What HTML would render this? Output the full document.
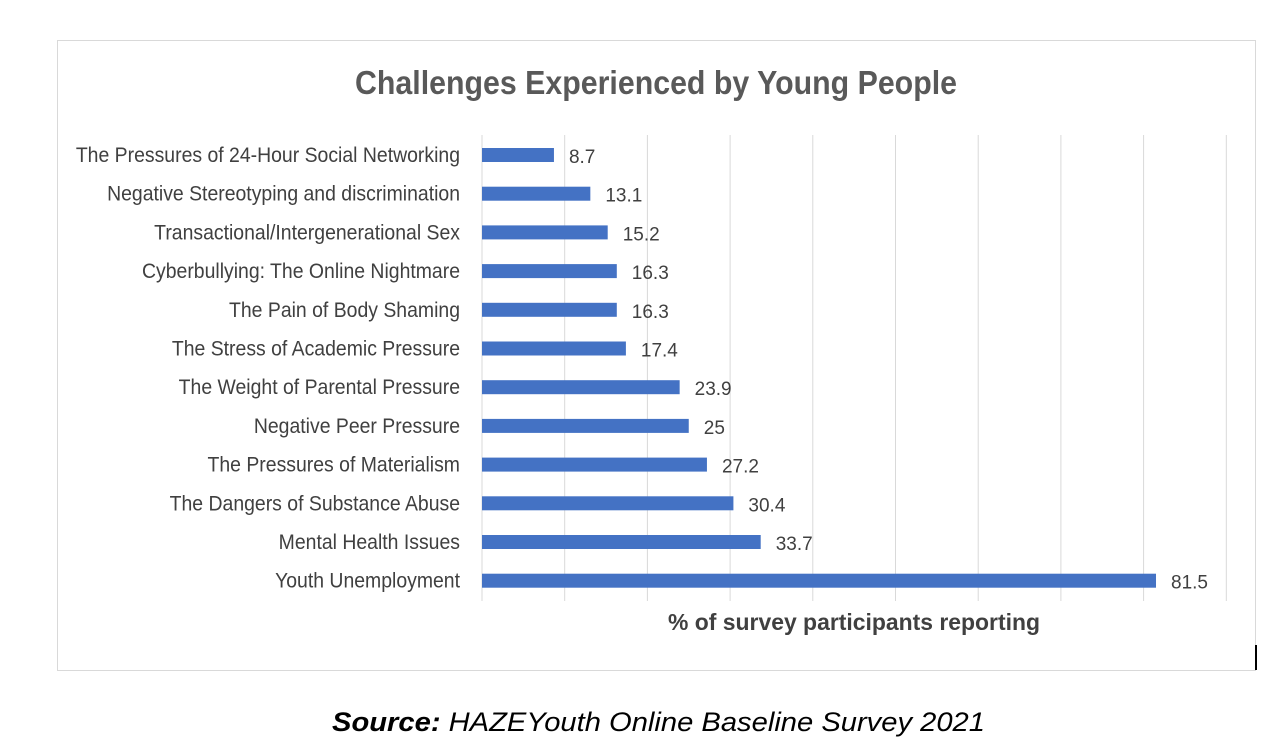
<!DOCTYPE html>
<html><head><meta charset="utf-8"><style>
body{margin:0;background:#fff;width:1280px;height:743px;overflow:hidden;font-family:"Liberation Sans",sans-serif}
</style></head><body>
<svg id="chart" width="1280" height="743" xmlns="http://www.w3.org/2000/svg">
<rect x="57.5" y="40.5" width="1198" height="630" fill="#fff" stroke="#d9d9d9"/>
<line x1="1256" y1="645" x2="1256" y2="670" stroke="#000" stroke-width="2"/>
<text x="656" y="94" text-anchor="middle" font-size="33" font-weight="bold" fill="#595959" textLength="602" lengthAdjust="spacingAndGlyphs">Challenges Experienced by Young People</text>
<g id="grid"></g><g id="bars"></g>
<text x="854" y="630" text-anchor="middle" font-size="23" font-weight="bold" fill="#404040" textLength="372" lengthAdjust="spacingAndGlyphs">% of survey participants reporting</text>
<text x="332" y="731" font-size="27" font-style="italic" fill="#000" textLength="653" lengthAdjust="spacingAndGlyphs"><tspan font-weight="bold">Source:</tspan> HAZEYouth Online Baseline Survey 2021</text>
</svg>
<script>
const categories=["The Pressures of 24-Hour Social Networking","Negative Stereotyping and discrimination","Transactional/Intergenerational Sex","Cyberbullying: The Online Nightmare","The Pain of Body Shaming","The Stress of Academic Pressure","The Weight of Parental Pressure","Negative Peer Pressure","The Pressures of Materialism","The Dangers of Substance Abuse","Mental Health Issues","Youth Unemployment"];
const values=[8.7,13.1,15.2,16.3,16.3,17.4,23.9,25,27.2,30.4,33.7,81.5];
const labels=["8.7","13.1","15.2","16.3","16.3","17.4","23.9","25","27.2","30.4","33.7","81.5"];
const gridTicks=[0,10,20,30,40,50,60,70,80,90];
const NS="http://www.w3.org/2000/svg";
const x0=482,pxPer=8.27;
const xs=v=>x0+v*pxPer;
const ys=i=>155+i*38.7;
const grid=document.getElementById('grid'),bars=document.getElementById('bars');
gridTicks.forEach(t=>{const l=document.createElementNS(NS,'line');
l.setAttribute('x1',xs(t));l.setAttribute('x2',xs(t));l.setAttribute('y1',135);l.setAttribute('y2',601);
l.setAttribute('stroke','#d9d9d9');l.setAttribute('stroke-width','1');


grid.appendChild(l);});
categories.forEach((c,i)=>{
const y=ys(i);
const t=document.createElementNS(NS,'text');t.setAttribute('x',0);t.setAttribute('y',0);
t.setAttribute('transform','translate(460,'+(y+7)+') scale(0.925,1)');
t.setAttribute('text-anchor','end');t.setAttribute('font-size','21');t.setAttribute('fill','#404040');
t.textContent=c;


bars.appendChild(t);
const r=document.createElementNS(NS,'rect');r.setAttribute('x',x0);r.setAttribute('y',y-7);
r.setAttribute('width',xs(values[i])-x0);r.setAttribute('height',14);r.setAttribute('fill','#4472c4');


bars.appendChild(r);
const v=document.createElementNS(NS,'text');v.setAttribute('x',xs(values[i])+15);v.setAttribute('y',y+8);
v.setAttribute('font-size','19');v.setAttribute('fill','#404040');v.textContent=labels[i];


bars.appendChild(v);
});
</script>
</body></html>
